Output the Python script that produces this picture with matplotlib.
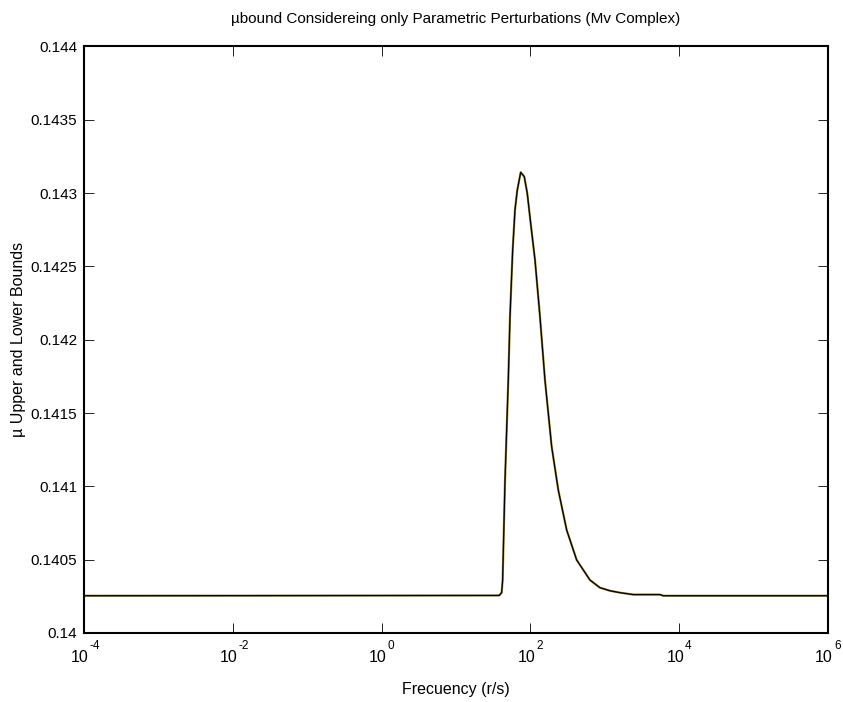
import numpy as np
import matplotlib
matplotlib.use("Agg")
import matplotlib.pyplot as plt

plt.rcParams['font.family'] = ['Liberation Sans', 'DejaVu Sans']
plt.rcParams['axes.unicode_minus'] = False

# frequency as log10 exponent (r/s)
log_freq = [-4.0, 1.58, 1.614, 1.627, 1.659, 1.703, 1.726, 1.762, 1.793, 1.824,
            1.870, 1.918, 1.958, 2.004, 2.062, 2.129, 2.196, 2.286, 2.375,
            2.488, 2.622, 2.801, 2.935, 3.070, 3.204, 3.383, 3.742, 3.786, 6.0]
# mu upper bound
mu_upper = [0.140254, 0.140256, 0.140275, 0.14036, 0.14104, 0.141725, 0.142157,
            0.142612, 0.142885, 0.143021, 0.143142, 0.143112, 0.142999,
            0.142794, 0.142544, 0.142157, 0.141725, 0.141271, 0.140975,
            0.140702, 0.140498, 0.140361, 0.140309, 0.140288, 0.140275,
            0.140262, 0.140262, 0.140254, 0.140254]
# mu lower bound (same as upper within drawing precision)
mu_lower = list(mu_upper)

x_exponents = [-4, -2, 0, 2, 4, 6]
y_ticks = [0.14, 0.1405, 0.141, 0.1415, 0.142, 0.1425, 0.143, 0.1435, 0.144]

freq = 10.0 ** np.array(log_freq)

fig = plt.figure(figsize=(8.43, 7.02), dpi=100)
ax = fig.add_axes([0.0996, 0.0983, 0.8826, 0.8355])

ax.semilogx(freq, mu_upper, color='#9c8c34', linewidth=1.6)
ax.semilogx(freq, mu_lower, color='black', linewidth=0.9)

ax.set_xlim(1e-4, 1e6)
ax.set_ylim(0.14, 0.144)
ax.set_xticks([10.0 ** e for e in x_exponents])
ax.set_xticklabels([])
ax.xaxis.set_minor_locator(matplotlib.ticker.NullLocator())
ax.set_yticks(y_ticks)
ax.set_yticklabels(['%g' % v for v in y_ticks])

# MATLAB style "10" with raised exponent
for e in x_exponents:
    ax.annotate('10', xy=(10.0 ** e, 0), xycoords=('data', 'axes fraction'),
                xytext=(3.6, -20.9), textcoords='offset points',
                ha='right', va='baseline', fontsize=11.5)
    ax.annotate(str(e), xy=(10.0 ** e, 0), xycoords=('data', 'axes fraction'),
                xytext=(4.3, -11.5), textcoords='offset points',
                ha='left', va='baseline', fontsize=8.5)

ax.tick_params(direction='in', length=7, width=0.6, top=True, right=True,
               labelsize=11, pad=5)
for s in ax.spines.values():
    s.set_linewidth(1.5)

ax.set_title('\u00b5bound Considereing only Parametric Perturbations (Mv Complex)',
             fontsize=11, pad=17)
ax.set_xlabel('Frecuency (r/s)', fontsize=11.5)
ax.xaxis.set_label_coords(0.5, -0.083)
ax.set_ylabel('\u00b5 Upper and Lower Bounds', fontsize=11.5, labelpad=3)

fig.savefig('out.png', dpi=100)
